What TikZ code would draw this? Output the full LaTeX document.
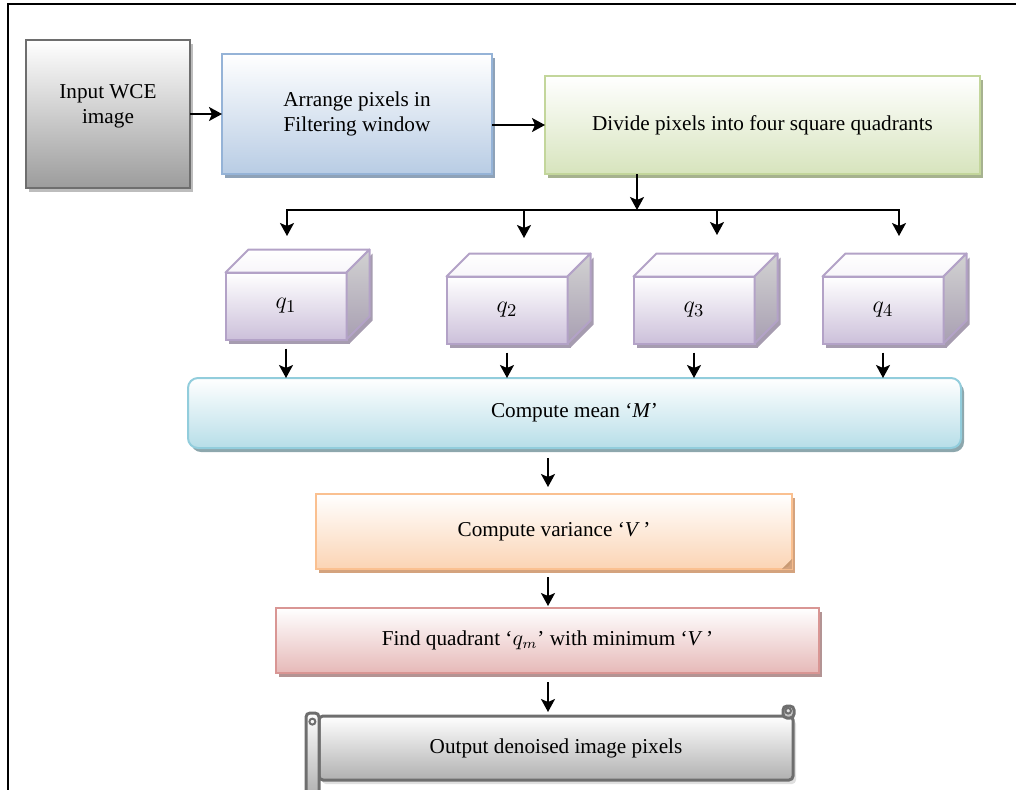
\documentclass[tikz,border=0pt]{standalone}
\usepackage{fontspec}
\setmainfont{Liberation Serif}
\usetikzlibrary{arrows.meta, positioning, shadows, calc}

\definecolor{inline}{HTML}{6E6E6E}
\definecolor{inbot}{HTML}{9C9C9C}
\definecolor{inshade}{HTML}{BDBDBD}
\definecolor{arrline}{HTML}{95B3D7}
\definecolor{arrbot}{HTML}{B8CCE4}
\definecolor{arrshade}{HTML}{8EA2B8}
\definecolor{divline}{HTML}{C3D69B}
\definecolor{divbot}{HTML}{D7E4BD}
\definecolor{divshade}{HTML}{A6B28F}
\definecolor{cubeline}{HTML}{B3A2C7}
\definecolor{cubebot}{HTML}{CCC0DA}
\definecolor{cubeshade}{HTML}{A69CB0}
\definecolor{sidetop}{HTML}{D2D2D2}
\definecolor{sidebot}{HTML}{A89FB2}
\definecolor{meanline}{HTML}{92CDDC}
\definecolor{meanbot}{HTML}{B7DEE8}
\definecolor{meanshade}{HTML}{8DA7AD}
\definecolor{varline}{HTML}{FAC090}
\definecolor{varbot}{HTML}{FBD4B4}
\definecolor{varshade}{HTML}{D4A37E}
\definecolor{findline}{HTML}{D99694}
\definecolor{findbot}{HTML}{E6B9B8}
\definecolor{findshade}{HTML}{B39494}
\definecolor{outbot}{HTML}{B0B0B0}

\begin{document}
\begin{tikzpicture}[
        x=0.5pt, y=-0.5pt,
        font=\fontsize{10.6}{12.4}\selectfont,
        block/.style={rectangle, line width=1pt, align=center, inner sep=2pt, outer sep=0pt},
        boxcol/.style n args={3}{draw=#1, top color=white, bottom color=#2,
            drop shadow={shadow xshift=1.5pt, shadow yshift=-2pt, fill=#3, opacity=1}},
        cube/.style={block, boxcol={cubeline}{cubebot}{cubeshade}, minimum width=60.5pt, minimum height=33.5pt,
            font=\fontsize{13}{15}\selectfont},
        face/.style={draw=cubeline, line width=1pt, line join=round},
        scrollpart/.style={draw=inline, line width=1.5pt, top color=white, bottom color=outbot},
        line/.style={line width=0.9pt},
        arrow/.style={line, -{Stealth[length=6.5pt, width=7pt, inset=1.5pt]}}
    ]
    \useasboundingbox (0,0) rectangle (1016,789);

    % frame round the chart
    \draw[line width=1pt] (8,820) -- (8,4) -- (1040,4);

    % top row
    \node (input) [block, boxcol={inline}{inbot}{inshade}, minimum width=82pt, minimum height=74pt] at (108,114)
        {\raisebox{18pt}{\begin{tabular}{@{}c@{}}Input WCE\\image\end{tabular}}};
    \node (arrange) [block, boxcol={arrline}{arrbot}{arrshade}, minimum width=135pt, minimum height=60pt, right=16pt of input]
        {Arrange pixels in\\Filtering window};
    \node (divide) [block, boxcol={divline}{divbot}{divshade}, minimum width=217.5pt, minimum height=49pt, right=26.5pt of arrange, yshift=-5.5pt]
        {Divide pixels into four square quadrants};

    % the four quadrants as boxes
    \foreach \n/\x/\y in {1/286/306, 2/507/310, 3/694/310, 4/883/310}
        \node (q\n) [cube] at (\x,\y) {$q_\n$};
    \foreach \n in {1,...,4} {
        \fill[cubeshade] ($(q\n.north east)+(1.5pt,-2pt)$) -- ++(11.5pt,11.5pt)
            -- ($(q\n.south east)+(13pt,9.5pt)$) -- ($(q\n.south east)+(1.5pt,-2pt)$) -- cycle;
        \shadedraw[face, top color=white, bottom color=white!85!cubebot]
            (q\n.north west) -- ++(11.5pt,11.5pt) -- ($(q\n.north east)+(11.5pt,11.5pt)$) -- (q\n.north east) -- cycle;
        \shadedraw[face, top color=sidetop, bottom color=sidebot]
            (q\n.north east) -- ++(11.5pt,11.5pt) -- ($(q\n.south east)+(11.5pt,11.5pt)$) -- (q\n.south east) -- cycle;
    }

    % lower chain
    \node (mean) [block, boxcol={meanline}{meanbot}{meanshade}, rounded corners=5pt, minimum width=386.5pt, minimum height=35pt] at (574.5,413)
        {Compute mean `\textit{M}'};
    \node (var) [block, boxcol={varline}{varbot}{varshade}, minimum width=238pt, minimum height=37.5pt] at (554,531.5)
        {Compute variance `\textit{V}\,'};
    \node (find) [block, boxcol={findline}{findbot}{findshade}, minimum width=271.5pt, minimum height=32.5pt] at (547.5,640.5)
        {Find quadrant `$q_m$' with minimum `\textit{V}\,'};

    % folded corner
    \fill[varshade] ($(var.south east)+(0,5pt)$) -- ($(var.south east)+(-5pt,0)$) -- (var.south east) -- cycle;
    \fill[varline!80!black] ($(var.south east)+(0,5pt)$) -- ($(var.south east)+(-5pt,0)$) -- ($(var.south east)+(-1.5pt,1.5pt)$) -- cycle;

    % output scroll
    \node (output) [block, draw=inline, line width=1.5pt, top color=white, bottom color=outbot, rounded corners=2pt,
        drop shadow={shadow xshift=1.5pt, shadow yshift=-2pt, fill=gray!25, opacity=1},
        minimum width=237pt, minimum height=32pt] at (556,748) {Output denoised image pixels};
    \path[scrollpart, rounded corners=2pt] ($(output.north west)+(-6.5pt,1.5pt)$) rectangle ($(output.south west)+(0,-8pt)$);
    \draw[inline, line width=1pt] ($(output.north west)+(-3.3pt,-2.8pt)$) circle (1.5pt);
    \path[scrollpart, rounded corners=2pt] ($(output.north east)+(-5pt,-1pt)$) rectangle ($(output.north east)+(0.5pt,5pt)$);
    \draw[inline, line width=1pt] ($(output.north east)+(-2.4pt,2.6pt)$) circle (1.4pt);

    % connectors
    \coordinate (split) at (637,210);
    \coordinate (t1) at (287,236);
    \coordinate (t2) at (524,238);
    \coordinate (t3) at (717,235);
    \coordinate (t4) at (899,236);
    \coordinate (spine) at (548,0);

    \draw[arrow] (input) -- (arrange);
    \draw[arrow] (arrange.east |- divide) -- (divide.west);
    \draw[arrow] (divide.south -| split) -- (split);
    \draw[line, {Stealth[length=6.5pt, width=7pt, inset=1.5pt]}-{Stealth[length=6.5pt, width=7pt, inset=1.5pt]}]
        (t1) -- (t1 |- split) -- (t4 |- split) -- (t4);
    \draw[arrow] (t2 |- split) -- (t2);
    \draw[arrow] (t3 |- split) -- (t3);
    \foreach \n in {1,...,4}
        \draw[arrow, shorten <=4.5pt] (q\n.south) -- (q\n.south |- mean.north);
    \draw[arrow, shorten <=5pt, shorten >=3.5pt] (mean.south -| spine) -- (var.north -| spine);
    \draw[arrow, shorten <=4pt, shorten >=1pt] (var.south -| spine) -- (find.north -| spine);
    \draw[arrow, shorten <=4.5pt, shorten >=2pt] (find.south -| spine) -- (output.north -| spine);

\end{tikzpicture}
\end{document}
